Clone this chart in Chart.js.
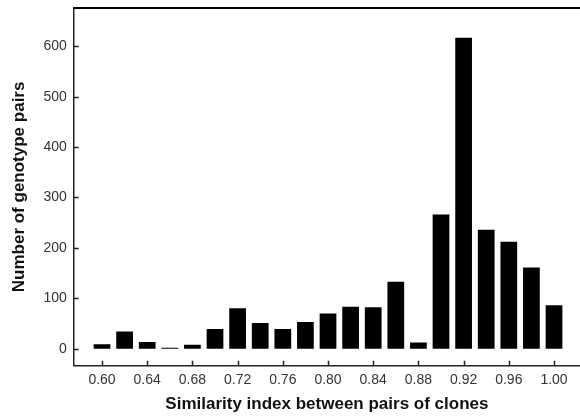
<!DOCTYPE html>
<html lang="en">
<head>
    <meta charset="UTF-8">
    <title>Similarity index histogram</title>
    <script src="https://cdn.jsdelivr.net/npm/chart.js"></script>
    <style>
        html, body { margin: 0; padding: 0; background: #fff; }
        #wrap { width: 580px; height: 418px; }
    </style>
</head>
<body>
    <div id="wrap"><canvas id="simChart" width="580" height="418"></canvas></div>
    <script>
        // similarity index bins and pair counts
        const bins = [0.60, 0.62, 0.64, 0.66, 0.68, 0.70, 0.72, 0.74, 0.76, 0.78, 0.80,
                      0.82, 0.84, 0.86, 0.88, 0.90, 0.92, 0.94, 0.96, 0.98, 1.00];
        const pairs = [9, 34, 13, 2, 8, 39, 80, 51, 39, 53, 70,
                       83, 82, 133, 12, 266, 617, 236, 212, 161, 86];
        const xTicks = [0.60, 0.64, 0.68, 0.72, 0.76, 0.80, 0.84, 0.88, 0.92, 0.96, 1.00];
        const yTicks = [0, 100, 200, 300, 400, 500, 600];

        // ticks in this figure point into the plot, so draw them ourselves
        const innerTicks = {
            id: 'innerTicks',
            afterDraw(chart) {
                const ctx = chart.ctx;
                const a = chart.chartArea;
                const xs = chart.scales.x, ys = chart.scales.y;
                ctx.save();
                ctx.strokeStyle = '#222';
                ctx.lineWidth = 1.5;
                ctx.beginPath();
                xs.ticks.forEach((t, i) => {
                    const px = Math.round(xs.getPixelForTick(i)) + 0.5;
                    ctx.moveTo(px, a.bottom);
                    ctx.lineTo(px, a.bottom - 5);
                });
                ys.ticks.forEach((t, i) => {
                    const py = Math.round(ys.getPixelForTick(i)) + 0.5;
                    ctx.moveTo(a.left, py);
                    ctx.lineTo(a.left + 5, py);
                });
                ctx.stroke();
                // top frame line
                ctx.strokeStyle = '#000';
                ctx.lineWidth = 2;
                ctx.beginPath();
                ctx.moveTo(a.left, a.top);
                ctx.lineTo(a.right, a.top);
                ctx.stroke();
                ctx.restore();
            }
        };

        const ctx = document.getElementById('simChart').getContext('2d');
        new Chart(ctx, {
            type: 'bar',
            data: {
                datasets: [{
                    data: bins.map((b, i) => ({ x: b, y: pairs[i] })),
                    backgroundColor: '#000',
                    borderWidth: 0,
                    barPercentage: 1.0,
                    categoryPercentage: 0.74
                }]
            },
            options: {
                responsive: false,
                animation: false,
                layout: { padding: { left: 9, right: 0, top: 8, bottom: 3 } },
                plugins: { legend: { display: false }, tooltip: { enabled: false } },
                scales: {
                    x: {
                        type: 'linear',
                        offset: false,
                        min: 0.575,
                        max: 1.023,
                        afterBuildTicks: axis => { axis.ticks = xTicks.map(v => ({ value: v })); },
                        grid: { display: false, drawTicks: false },
                        border: { display: true, color: '#222', width: 1.5 },
                        ticks: {
                            padding: 6,
                            color: '#333',
                            font: { family: 'Liberation Sans, Arial, sans-serif', size: 14 },
                            maxRotation: 0,
                            callback: v => Number(v).toFixed(2)
                        },
                        title: {
                            display: true,
                            text: 'Similarity index between pairs of clones',
                            color: '#111',
                            font: { family: 'Liberation Sans, Arial, sans-serif', size: 17, weight: 'bold' },
                            padding: { top: 0, bottom: 0 }
                        }
                    },
                    y: {
                        min: -34,
                        max: 676,
                        afterBuildTicks: axis => { axis.ticks = yTicks.map(v => ({ value: v })); },
                        // label half-heights are not needed, the end ticks sit inside the range
                        afterFit: axis => { axis.paddingTop = 0; axis.paddingBottom = 0; },
                        grid: { display: false, drawTicks: false },
                        border: { display: true, color: '#222', width: 1.5 },
                        ticks: {
                            padding: 7,
                            color: '#333',
                            font: { family: 'Liberation Sans, Arial, sans-serif', size: 14 }
                        },
                        title: {
                            display: true,
                            text: 'Number of genotype pairs',
                            color: '#111',
                            font: { family: 'Liberation Sans, Arial, sans-serif', size: 17, weight: 'bold' },
                            padding: { top: 0, bottom: 7 }
                        }
                    }
                }
            },
            plugins: [innerTicks]
        });
    </script>
</body>
</html>
